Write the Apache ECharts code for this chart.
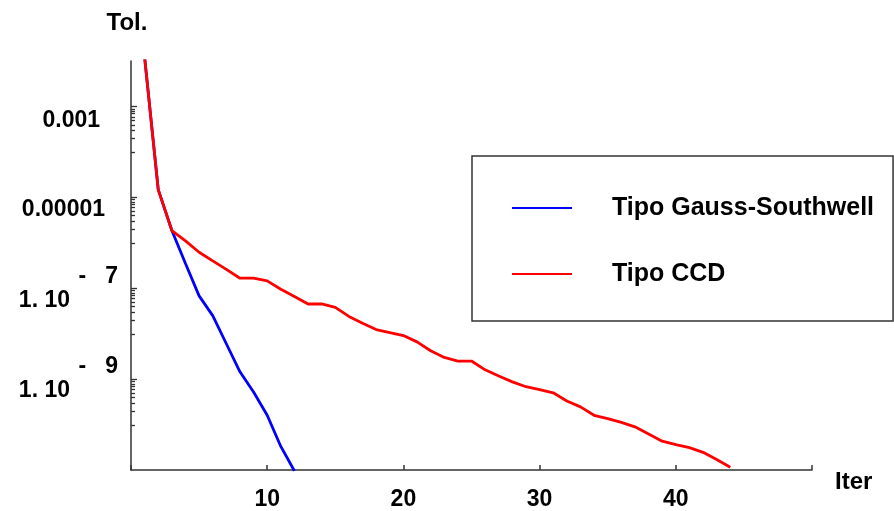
<!DOCTYPE html>
<html>
<head>
<meta charset="utf-8">
<script src="https://cdn.jsdelivr.net/npm/echarts@6/dist/echarts.min.js"></script>
<style>
html,body{margin:0;padding:0;background:#fff;}
#chart{width:894px;height:511px;}
</style>
</head>
<body>
<div id="chart"></div>
<script>
// ---- data ----
const seriesNames = ['Tipo Gauss-Southwell', 'Tipo CCD'];
const iterGS = [1,2,3,4,5,6,7,8,9,10,11,12];
const tolGS = [1.2e-2,1.48e-5,1.86e-6,3.5e-7,6.8e-8,2.5e-8,6.0e-9,1.45e-9,5.2e-10,1.6e-10,3.3e-11,9.5e-12];
const iterCCD = [1,2,3,4,5,6,7,8,9,10,11,12,13,14,15,16,17,18,19,20,21,22,23,24,25,26,27,28,29,30,31,32,33,34,35,36,37,38,39,40,41,42,43,44];
const tolCCD = [1.2e-2,1.48e-5,1.86e-6,1.1e-6,6.2e-7,4.0e-7,2.6e-7,1.66e-7,1.66e-7,1.45e-7,9.5e-8,6.6e-8,4.5e-8,4.5e-8,3.8e-8,2.4e-8,1.7e-8,1.23e-8,1.05e-8,9.1e-9,6.6e-9,4.2e-9,3.0e-9,2.5e-9,2.5e-9,1.6e-9,1.17e-9,8.7e-10,6.8e-10,5.9e-10,5.0e-10,3.3e-10,2.45e-10,1.6e-10,1.35e-10,1.12e-10,8.9e-11,6.2e-11,4.3e-11,3.6e-11,3.1e-11,2.45e-11,1.7e-11,1.15e-11];
const xTickLabels = [10, 20, 30, 40];
const yTickExps = [-3, -5, -7, -9];
const yTickTexts = ['0.001', '0.00001', '1. 10|-   7', '1. 10|-   9'];
const yMin = 1e-11, yMax = 1e-2;

// ---- chart ----
const FONT = '"Liberation Sans", Arial, Helvetica, sans-serif';
const chart = echarts.init(document.getElementById('chart'), null, {renderer: 'canvas'});

function yLabel(v) {
  const k = Math.round(Math.log10(v));
  const i = yTickExps.indexOf(k);
  if (i < 0) return '';
  const t = yTickTexts[i];
  if (t.indexOf('|') >= 0) {
    const p = t.split('|');
    return '{s|' + p[1] + '}\n{m|' + p[0] + '}{g|}';
  }
  return (i === 0 ? '{a|' : '{b|') + t + '}';
}

const labelBase = {fontSize: 23, fontWeight: 'bold', color: '#000', fontFamily: FONT};

chart.setOption({
  animation: false,
  backgroundColor: '#fff',
  grid: {left: 131, right: 82, top: 61, bottom: 39.5},
  legend: {
    orient: 'vertical',
    left: 472, top: 156,
    padding: [37, 19, 32, 40],
    borderColor: '#333', borderWidth: 1.5,
    itemWidth: 60, itemHeight: 2,
    icon: 'rect',
    itemGap: 36,
    data: seriesNames,
    textStyle: {fontSize: 25, fontWeight: 'bold', color: '#000', fontFamily: FONT, lineHeight: 30, padding: [0, 0, 0, 35]}
  },
  xAxis: {
    type: 'value', min: 0, max: 50, interval: 10,
    name: 'Iter', nameLocation: 'end', nameGap: 23,
    nameTextStyle: {fontSize: 24, fontWeight: 'bold', color: '#000', fontFamily: FONT, verticalAlign: 'top', lineHeight: 24},
    axisLine: {lineStyle: {color: '#333', width: 1.5}},
    axisTick: {inside: true, length: 5, lineStyle: {color: '#333', width: 1.5}},
    splitLine: {show: false},
    axisLabel: {
      margin: 18, fontSize: 23, fontWeight: 'bold', color: '#000', fontFamily: FONT,
      formatter: function (v) { return xTickLabels.indexOf(v) >= 0 ? String(v) : ''; }
    }
  },
  yAxis: {
    type: 'log', logBase: 10, min: yMin, max: yMax,
    name: 'Tol.', nameLocation: 'end', nameGap: 26,
    nameTextStyle: {fontSize: 24, fontWeight: 'bold', color: '#000', fontFamily: FONT, padding: [0, 8, 0, 0]},
    axisLine: {lineStyle: {color: '#333', width: 1.5}},
    axisTick: {show: false},
    splitLine: {show: false},
    axisLabel: {
      margin: 13, showMinLabel: false, showMaxLabel: false,
      formatter: yLabel,
      rich: {
        a: Object.assign({}, labelBase, {padding: [29, 18, 0, 0]}),
        b: Object.assign({}, labelBase, {padding: [24, 13, 0, 0]}),
        s: Object.assign({}, labelBase, {lineHeight: 24}),
        m: Object.assign({}, labelBase, {lineHeight: 24}),
        g: {width: 48}
      }
    }
  },
  series: [
    {
      name: seriesNames[0], type: 'line', symbol: 'none', clip: true,
      color: '#0000ff',
      lineStyle: {color: '#0000ff', width: 2.8},
      data: iterGS.map((x, i) => [x, tolGS[i]])
    },
    {
      name: seriesNames[1], type: 'line', symbol: 'none', clip: true,
      color: '#ff0000',
      lineStyle: {color: '#ff0000', width: 2.8},
      data: iterCCD.map((x, i) => [x, tolCCD[i]])
    }
  ]
});

// y ticks: major at labelled decades, log minor ticks (1..9) in the decade below
const x0 = chart.convertToPixel({xAxisIndex: 0}, 0);
const ticks = [];
function tickAt(v, len) {
  const py = Math.round(chart.convertToPixel({yAxisIndex: 0}, v)) + 0.5;
  ticks.push({
    type: 'line',
    shape: {x1: x0, y1: py, x2: x0 + len, y2: py},
    style: {stroke: '#333', lineWidth: 1.3},
    silent: true
  });
}
yTickExps.forEach(function (k) {
  tickAt(Math.pow(10, k), 6);
  for (let m = 1; m <= 9; m++) tickAt(m * Math.pow(10, k - 1), 4);
});
chart.setOption({graphic: ticks});
</script>
</body>
</html>
